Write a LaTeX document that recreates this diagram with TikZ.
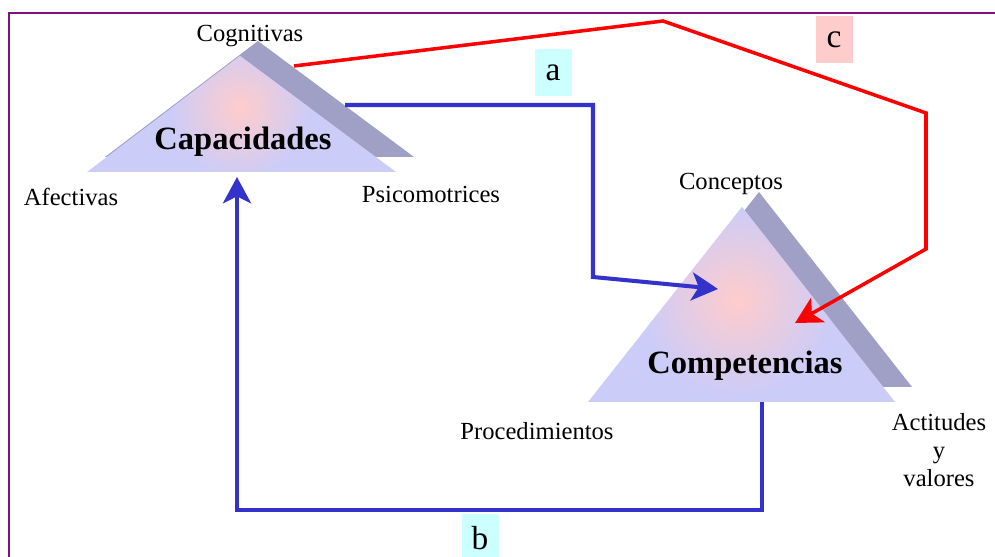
\documentclass[tikz,border=0pt]{standalone}
\usepackage{fontspec}
\setmainfont{Liberation Serif}
\usetikzlibrary{arrows.meta}
\definecolor{framec}{RGB}{128,16,128}
\definecolor{triface}{RGB}{204,204,248}
\definecolor{tricore}{RGB}{255,204,204}
\definecolor{trishade}{RGB}{160,160,198}
\definecolor{linkblue}{RGB}{51,51,204}
\definecolor{tagcyan}{RGB}{204,255,255}
\definecolor{tagpink}{RGB}{255,204,204}
\tikzset{
    lbl/.style={font=\fontsize{14}{16}\selectfont, align=center},
    title/.style={font=\fontsize{18.5}{22}\selectfont\bfseries},
    tag/.style={font=\fontsize{19}{22}\selectfont, minimum width=7.4mm, minimum height=9.4mm, inner sep=0pt},
    link/.style={line width=2.3pt, -{Stealth[length=15pt, width=16pt, inset=4pt]}},
}
\begin{document}
\begin{tikzpicture}[x=0.2mm, y=-0.2mm]
    \useasboundingbox (0,0) rectangle (995,557);
    % Frame
    \draw[framec, line width=1.1pt] (9,557) -- (9,13) -- (995,13);

    % Capacidades triangle (shadow, face, glow)
    \fill[trishade] (258,41) -- (414,157) -- (105,157) -- cycle;
    \fill[triface] (240,56) -- (396,172) -- (87,172) -- cycle;
    \begin{scope}
        \clip (240,56) -- (396,172) -- (87,172) -- cycle;
        \shade[inner color=tricore, outer color=triface] (240,108) circle (14mm);
    \end{scope}
    \node[title] (cap) at (243,142) {Capacidades};
    \node[lbl] (cog) at (250,36) {Cognitivas};
    \node[lbl] (afe) at (71,197) {Afectivas};
    \node[lbl] (psi) at (431,194) {Psicomotrices};

    % Competencias triangle (shadow, face, glow)
    \fill[trishade] (759,192) -- (912,387) -- (605,387) -- cycle;
    \fill[triface] (742,207) -- (895,402) -- (588,402) -- cycle;
    \begin{scope}
        \clip (742,207) -- (895,402) -- (588,402) -- cycle;
        \shade[inner color=tricore, outer color=triface] (737,300) circle (19mm);
    \end{scope}
    \node[title] (com) at (745,366) {Competencias};
    \node[lbl] (con) at (731,184) {Conceptos};
    \node[lbl] (pro) at (537,431) {Procedimientos};
    \node[lbl] (act) at (939,450) {Actitudes\\y\\valores};

    % Connector ends
    \coordinate (aStart) at (345,105);
    \coordinate (aEnd) at (718,289);
    \coordinate (bStart) at (762,402);
    \coordinate (bEnd) at (237,177);
    \coordinate (cStart) at (294,66);
    \coordinate (cEnd) at (795,323);

    % Connectors
    \draw[link, linkblue] (aStart) -- (593,105) -- (593,277) -- (aEnd);
    \draw[link, linkblue] (bStart) -- (762,510) -- (237,510) -- (bEnd);
    \draw[link, red, line width=2pt] (cStart) -- (663,21) -- (926,113) -- (926,249) -- (cEnd);

    % Tags
    \node[tag, fill=tagcyan] (ta) at (553,73) {a};
    \node[tag, fill=tagpink] (tc) at (834,40) {c};
    \node[tag, fill=tagcyan] (tb) at (480,538) {b};
\end{tikzpicture}
\end{document}
